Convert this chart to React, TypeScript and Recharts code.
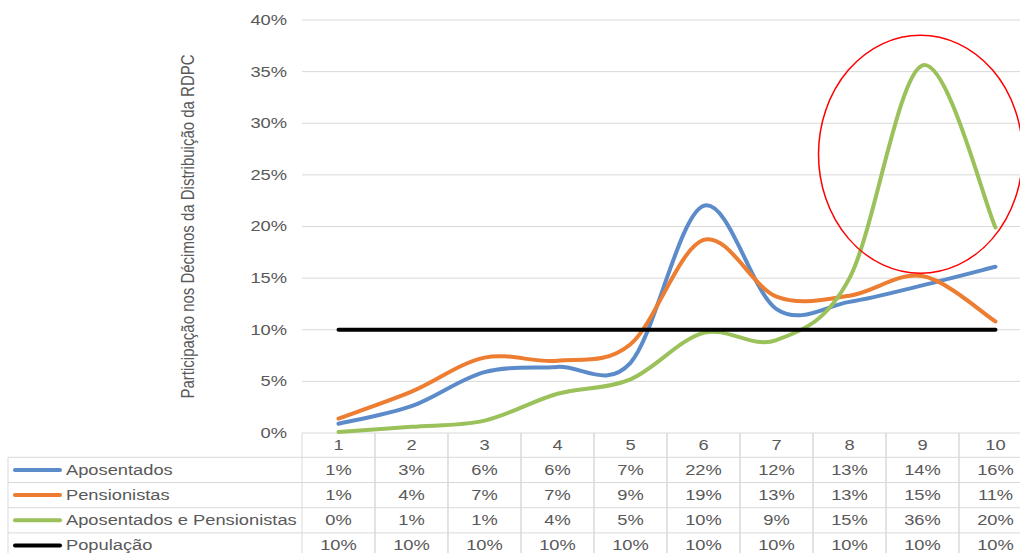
import { LineChart, Line, XAxis, YAxis, CartesianGrid, ReferenceDot } from "recharts"

const deciles = [1, 2, 3, 4, 5, 6, 7, 8, 9, 10]
const aposentados = [0.9, 2.6, 5.9, 6.4, 6.8, 22.0, 12.0, 12.7, 14.3, 16.1]
const pensionistas = [1.4, 4.0, 7.3, 7.0, 8.6, 18.7, 13.2, 13.3, 15.2, 10.8]
const ambos = [0.1, 0.6, 1.2, 3.8, 5.2, 9.7, 9.0, 15.0, 35.6, 19.9]
const populacao = [10, 10, 10, 10, 10, 10, 10, 10, 10, 10]
const yTicks = [0, 5, 10, 15, 20, 25, 30, 35, 40]

const series = [
  { key: "apos", name: "Aposentados", color: "#5b8bc9", values: aposentados },
  { key: "pens", name: "Pensionistas", color: "#ed7d31", values: pensionistas },
  { key: "ambos", name: "Aposentados e Pensionistas", color: "#9bc15a", values: ambos },
  { key: "pop", name: "População", color: "#000000", values: populacao },
]

const data = deciles.map((d, i) => {
  const row: Record<string, number> = { decil: d }
  series.forEach((s) => (row[s.key] = s.values[i]))
  return row
})

const FONT = "'Liberation Sans', Arial, sans-serif"
const TEXT = "#595959"
const GRID = "#d9d9d9"
const STRETCH = 1.22
const COL_W = 73
const HEAD_H = 24.3
const ROW_H = 25.2

// Excel-like smoothing (Catmull-Rom through every point)
function excelSmooth(context: any) {
  let pts: number[][] = []
  return {
    areaStart() {},
    areaEnd() {},
    lineStart() {
      pts = []
    },
    point(x: number, y: number) {
      pts.push([+x, +y])
    },
    lineEnd() {
      const n = pts.length
      if (!n) return
      context.moveTo(pts[0][0], pts[0][1])
      for (let i = 0; i < n - 1; i++) {
        const p0 = pts[Math.max(i - 1, 0)]
        const p1 = pts[i]
        const p2 = pts[i + 1]
        const p3 = pts[Math.min(i + 2, n - 1)]
        context.bezierCurveTo(
          p1[0] + (p2[0] - p0[0]) / 6,
          p1[1] + (p2[1] - p0[1]) / 6,
          p2[0] - (p3[0] - p1[0]) / 6,
          p2[1] - (p3[1] - p1[1]) / 6,
          p2[0],
          p2[1]
        )
      }
    },
  }
}

function Wide({ x, y, children, anchor = "middle" }: any) {
  return (
    <text
      transform={`translate(${x},${y}) scale(${STRETCH},1)`}
      textAnchor={anchor}
      dominantBaseline="central"
      fontFamily={FONT}
      fontSize={15}
      fill={TEXT}
    >
      {children}
    </text>
  )
}

function YTick(props: any) {
  const { x, y, payload } = props
  return (
    <Wide x={x} y={y} anchor="end">
      {payload.value}%
    </Wide>
  )
}

function TableTick(props: any) {
  const { x, y, index } = props
  const left = x - COL_W / 2
  const right = x + COL_W / 2
  const bottom = y + HEAD_H + ROW_H * 4 + 10
  const rowTop = (r: number) => y + HEAD_H + r * ROW_H
  return (
    <g>
      <line x1={left} x2={left} y1={y} y2={bottom} stroke={GRID} />
      <line x1={right} x2={right} y1={y} y2={bottom} stroke={GRID} />
      {[0, 1, 2, 3].map((r) => (
        <line key={r} x1={left} x2={right} y1={rowTop(r)} y2={rowTop(r)} stroke={GRID} />
      ))}
      <Wide x={x} y={y + HEAD_H / 2}>
        {deciles[index]}
      </Wide>
      {series.map((s, r) => (
        <Wide key={s.key} x={x} y={rowTop(r) + ROW_H / 2}>
          {Math.round(s.values[index])}%
        </Wide>
      ))}
      {index === 0 && (
        <g>
          <line x1={8} x2={8} y1={rowTop(0)} y2={bottom} stroke={GRID} />
          {[0, 1, 2, 3].map((r) => (
            <line key={r} x1={8} x2={left} y1={rowTop(r)} y2={rowTop(r)} stroke={GRID} />
          ))}
          {series.map((s, r) => (
            <g key={s.key}>
              <line
                x1={15}
                x2={60}
                y1={rowTop(r) + ROW_H / 2}
                y2={rowTop(r) + ROW_H / 2}
                stroke={s.color}
                strokeWidth={4}
                strokeLinecap="round"
              />
              <Wide x={66} y={rowTop(r) + ROW_H / 2} anchor="start">
                {s.name}
              </Wide>
            </g>
          ))}
        </g>
      )}
    </g>
  )
}

function AxisTitle(props: any) {
  const vb = props.viewBox
  const cy = vb.y + vb.height / 2
  return (
    <text
      transform={`translate(188,${cy}) scale(${STRETCH},1) rotate(-90)`}
      textAnchor="middle"
      dominantBaseline="central"
      fontFamily={FONT}
      fontSize={15}
      fill={TEXT}
    >
      Participação nos Décimos da Distribuição da RDPC
    </text>
  )
}

export default function App() {
  return (
    <div
      style={{
        position: "absolute",
        left: 0,
        top: 0,
        width: 1020,
        height: 553,
        overflow: "hidden",
        background: "#fff",
      }}
    >
      <LineChart
        width={1040}
        height={560}
        data={data}
        margin={{ top: 20, right: 8, bottom: 0, left: 0 }}
      >
        <CartesianGrid vertical={false} stroke={GRID} />
        <XAxis
          dataKey="decil"
          type="category"
          scale="band"
          height={127}
          axisLine={false}
          tickLine={false}
          tickSize={0}
          tickMargin={0}
          interval={0}
          tick={<TableTick />}
        />
        <YAxis
          width={302}
          domain={[0, 40]}
          ticks={yTicks}
          axisLine={false}
          tickLine={false}
          tickSize={6}
          tickMargin={9}
          tick={<YTick />}
          label={<AxisTitle />}
        />
        {series.map((s) => (
          <Line
            key={s.key}
            dataKey={s.key}
            name={s.name}
            type={s.key === "pop" ? "linear" : (excelSmooth as any)}
            stroke={s.color}
            strokeWidth={4}
            strokeLinecap="round"
            dot={false}
            activeDot={false}
            isAnimationActive={false}
          />
        ))}
        <ReferenceDot
          x={9}
          y={27}
          r={1}
          shape={(p: any) => (
            <ellipse cx={p.cx - 2} cy={p.cy} rx={102} ry={119} fill="none" stroke="#ff0000" strokeWidth={1.5} />
          )}
        />
      </LineChart>
    </div>
  )
}
